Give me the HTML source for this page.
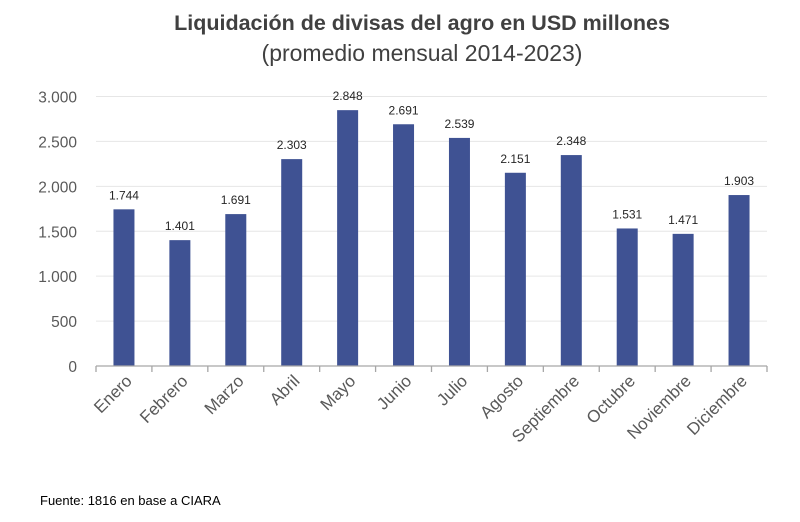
<!DOCTYPE html>
<html><head><meta charset="utf-8"><style>
body{margin:0;background:#fff;width:800px;height:517px;overflow:hidden;font-family:"Liberation Sans",sans-serif}
</style></head><body>
<svg width="800" height="517" xmlns="http://www.w3.org/2000/svg" font-family="Liberation Sans, sans-serif">
<text x="422" y="30" text-anchor="middle" font-size="21.5" font-weight="bold" fill="#404040">Liquidación de divisas del agro en USD millones</text>
<text x="422" y="61" text-anchor="middle" font-size="23" fill="#404040">(promedio mensual 2014-2023)</text>
<g id="grid"></g><g id="bars"></g><g id="axes"></g>
<text x="40" y="505" font-size="13" fill="#000">Fuente: 1816 en base a CIARA</text>
</svg>
<script>
const categories=["Enero","Febrero","Marzo","Abril","Mayo","Junio","Julio","Agosto","Septiembre","Octubre","Noviembre","Diciembre"];
const values=[1744,1401,1691,2303,2848,2691,2539,2151,2348,1531,1471,1903];
const valueLabels=["1.744","1.401","1.691","2.303","2.848","2.691","2.539","2.151","2.348","1.531","1.471","1.903"];
const ticks=[0,500,1000,1500,2000,2500,3000];
const tickLabels=["0","500","1.000","1.500","2.000","2.500","3.000"];
const NS="http://www.w3.org/2000/svg";
const x0=96,x1=767,yb=366,yt=96.5,ymax=3000;
const bw=(x1-x0)/categories.length;
const y=v=>yb-(v/ymax)*(yb-yt);
const xc=i=>x0+bw*(i+0.5);
function mk(t,a,p){const e=document.createElementNS(NS,t);for(const k in a)e.setAttribute(k,a[k]);p.appendChild(e);return e;}
const grid=document.getElementById('grid'),bars=document.getElementById('bars'),axes=document.getElementById('axes');
ticks.forEach((t,i)=>{
 if(t>0){const l=mk('line',{x1:x0,x2:x1,y1:y(t),y2:y(t),stroke:'#e6e6e6','stroke-width':1},grid);
 
 }
 const tx=mk('text',{x:77,y:y(t)+6,'text-anchor':'end','font-size':15.5,fill:'#595959'},axes);
 tx.textContent=tickLabels[i];
 
 
});
const ax=mk('line',{x1:x0,x2:x1,y1:yb,y2:yb,stroke:'#a6a6a6','stroke-width':1.3},axes);


for(let i=0;i<=categories.length;i++){
 const tk=mk('line',{x1:x0+bw*i,x2:x0+bw*i,y1:yb,y2:yb+6,stroke:'#a6a6a6','stroke-width':1.3},axes);
 
 
}
categories.forEach((c,i)=>{
 const r=mk('rect',{x:xc(i)-10.5,y:y(values[i]),width:21,height:yb-y(values[i]),fill:'#3f5293'},bars);
 
 
 const vl=mk('text',{x:xc(i),y:y(values[i])-10,'text-anchor':'middle','font-size':12,fill:'#262626'},bars);
 vl.textContent=valueLabels[i];
 
 
 const cx=xc(i)+9,cy=yb+16;
 const cl=mk('text',{x:cx,y:cy,'text-anchor':'end','font-size':17,fill:'#595959',transform:`rotate(-45 ${cx} ${cy})`},axes);
 cl.textContent=c;
 
 
});
</script>
</body></html>
